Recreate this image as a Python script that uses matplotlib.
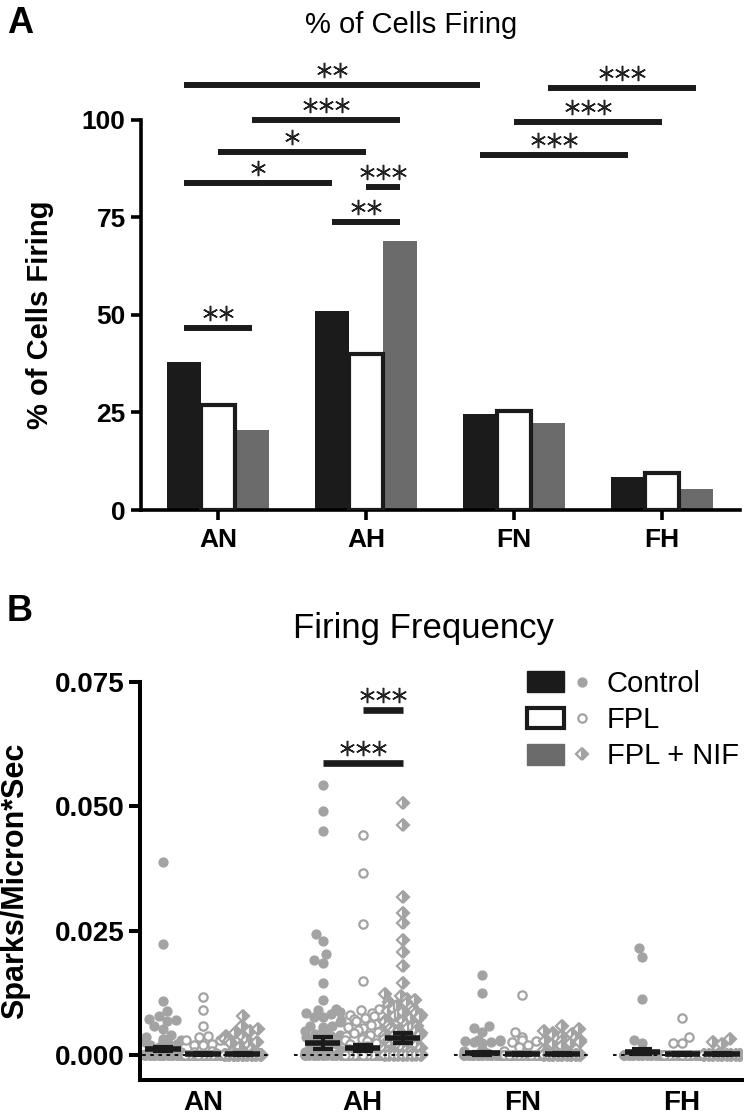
import numpy as np
import matplotlib
matplotlib.use("Agg")
import matplotlib.pyplot as plt
from matplotlib.patches import Patch
from matplotlib.lines import Line2D
from matplotlib.legend_handler import HandlerTuple
from matplotlib.transforms import ScaledTranslation

plt.rcParams['font.family'] = ['Liberation Sans', 'DejaVu Sans']

# ---- data ----
groups = ['AN', 'AH', 'FN', 'FH']
treatments = ['Control', 'FPL', 'FPL + NIF']

# panel A: % of cells firing
pct_control = [38.0, 51.0, 24.5, 8.4]
pct_fpl = [27.0, 40.0, 25.3, 9.4]
pct_nif = [20.4, 69.0, 22.2, 5.4]

# significance bars, panel A: (group, treatment) -> (group, treatment), height, stars
sig_a_from = [(0, 0), (2, 2), (0, 2), (2, 1), (0, 1), (2, 0), (0, 0), (1, 1), (1, 0), (0, 0)]
sig_a_to = [(2, 0), (3, 2), (1, 2), (3, 1), (1, 1), (3, 0), (1, 0), (1, 2), (1, 2), (0, 2)]
sig_a_y = [108.9, 108.1, 99.9, 99.4, 91.7, 90.9, 83.8, 82.7, 73.8, 46.7]
sig_a_stars = [2, 3, 3, 3, 1, 3, 1, 3, 2, 2]

# panel B: firing frequency (sparks / micron*sec), non-zero values per column
an_control = [0.0389, 0.0223, 0.0109, 0.0089, 0.0078, 0.0072, 0.0070, 0.0069, 0.0058, 0.0053,
              0.0040, 0.0036, 0.0033, 0.0030, 0.0028, 0.0026, 0.0024, 0.0022, 0.0020, 0.0018,
              0.0016, 0.0015, 0.0012, 0.0011, 0.0009, 0.0008, 0.0006, 0.0005, 0.0003, 0.0002]
an_fpl = [0.0116, 0.0091, 0.0059, 0.0038, 0.0037, 0.0031, 0.0030, 0.0022, 0.0021, 0.0021,
          0.0009, 0.0006, 0.0004]
an_nif = [0.0079, 0.0059, 0.0052, 0.0048, 0.0044, 0.0041, 0.0038, 0.0036, 0.0033, 0.0031,
          0.0028, 0.0027, 0.0024, 0.0021, 0.0017, 0.0013, 0.0009, 0.0006]
ah_control = [0.0543, 0.0490, 0.0451, 0.0243, 0.0230, 0.0203, 0.0191, 0.0186, 0.0144, 0.0111,
              0.0092, 0.0091, 0.0087, 0.0085, 0.0082, 0.0077, 0.0076, 0.0070, 0.0066, 0.0058,
              0.0058, 0.0057, 0.0050, 0.0049, 0.0045, 0.0043, 0.0040, 0.0038, 0.0036, 0.0033,
              0.0031, 0.0029, 0.0027, 0.0025, 0.0022, 0.0020, 0.0018, 0.0016, 0.0013, 0.0011,
              0.0009, 0.0007, 0.0005, 0.0003]
ah_fpl = [0.0442, 0.0367, 0.0264, 0.0149, 0.0093, 0.0090, 0.0084, 0.0080, 0.0079, 0.0074,
          0.0072, 0.0068, 0.0065, 0.0063, 0.0060, 0.0057, 0.0055, 0.0051, 0.0049, 0.0046,
          0.0044, 0.0041, 0.0038, 0.0036, 0.0033, 0.0031, 0.0028, 0.0025, 0.0022, 0.0019,
          0.0016, 0.0013, 0.0010, 0.0008, 0.0005, 0.0003]
ah_nif = [0.0506, 0.0463, 0.0317, 0.0285, 0.0266, 0.0231, 0.0207, 0.0180, 0.0145, 0.0122,
          0.0118, 0.0113, 0.0110, 0.0107, 0.0104, 0.0101, 0.0099, 0.0096, 0.0093, 0.0091,
          0.0089, 0.0087, 0.0084, 0.0083, 0.0080, 0.0078, 0.0076, 0.0074, 0.0071, 0.0069,
          0.0068, 0.0066, 0.0063, 0.0061, 0.0059, 0.0057, 0.0055, 0.0054, 0.0052, 0.0050,
          0.0048, 0.0047, 0.0045, 0.0043, 0.0041, 0.0040, 0.0038, 0.0036, 0.0035, 0.0033,
          0.0031, 0.0030, 0.0028, 0.0026, 0.0025, 0.0023, 0.0021, 0.0020, 0.0018, 0.0017,
          0.0015, 0.0014, 0.0012, 0.0011, 0.0009, 0.0008, 0.0006, 0.0005, 0.0004, 0.0002]
fn_control = [0.0161, 0.0124, 0.0059, 0.0055, 0.0047, 0.0031, 0.0030, 0.0029, 0.0028, 0.0027,
              0.0026, 0.0024, 0.0012, 0.0008, 0.0005]
fn_fpl = [0.0121, 0.0047, 0.0037, 0.0031, 0.0029, 0.0027, 0.0021, 0.0017, 0.0009, 0.0005]
fn_nif = [0.0058, 0.0052, 0.0048, 0.0045, 0.0042, 0.0040, 0.0038, 0.0035, 0.0033, 0.0031,
          0.0029, 0.0028, 0.0026, 0.0024, 0.0022, 0.0019, 0.0010, 0.0006]
fh_control = [0.0215, 0.0198, 0.0113, 0.0030, 0.0025]
fh_fpl = [0.0075, 0.0036, 0.0025, 0.0024]
fh_nif = [0.0032, 0.0027, 0.0022]

# number of cells at zero in each column (control, fpl, nif) per group
zeros_control = [40, 30, 40, 35]
zeros_fpl = [45, 35, 40, 35]
zeros_nif = [45, 25, 40, 35]

# mean and SEM drawn over each column
mean_control = [0.0012, 0.0024, 0.0004, 0.0007]
mean_fpl = [0.0002, 0.0014, 0.0003, 0.0002]
mean_nif = [0.0002, 0.0034, 0.0003, 0.0002]
sem_control = [0.0004, 0.0012, 0.0003, 0.0005]
sem_fpl = [0.0002, 0.0006, 0.0002, 0.0002]
sem_nif = [0.0002, 0.0010, 0.0002, 0.0002]

# significance bars, panel B
sig_b_from = [(1, 0), (1, 1)]
sig_b_to = [(1, 2), (1, 2)]
sig_b_y = [0.0587, 0.0694]
sig_b_stars = [3, 3]

BLACK = '#1b1b1b'
DARK = '#6b6b6b'
PT = '#a3a3a3'

fig = plt.figure(figsize=(7.44, 11.15), dpi=100)


def draw_stars(ax, x, y, n, dy_px=15):
    # thin six-armed asterisks, spaced in pixels above a bar
    for k in range(n):
        off = (k - (n - 1) / 2) * 16 / 100
        tr = ax.transData + ScaledTranslation(off, dy_px / 100, fig.dpi_scale_trans)
        ax.plot([x], [y], marker=(6, 2, 0), ms=11, mew=1.1, color='#222222',
                transform=tr, clip_on=False, zorder=6)


def swarm(vals, ypx, xpx, d=9.0, maxw=18.0):
    # simple beeswarm in pixel space: each point takes the free slot nearest
    # the column centre; once the column is full, points overlap on a grid
    vals = np.asarray(vals, dtype=float)
    offs = np.zeros(len(vals))
    px, py = [], []
    grid = np.linspace(-maxw, maxw, 9)
    n_over = 0
    for i in np.argsort(vals, kind='stable'):
        y = vals[i] * ypx
        iv = []
        for xj, yj in zip(px, py):
            dy = abs(y - yj)
            if dy < d:
                w = np.sqrt(d * d - dy * dy)
                iv.append((xj - w, xj + w))
        cands = [0.0] + [a for a, b in iv] + [b for a, b in iv]
        ok = [c for c in cands if all(not (a + 1e-6 < c < b - 1e-6) for a, b in iv)]
        best = min(ok, key=abs)
        if abs(best) > maxw:
            best = grid[(n_over * 4) % 9]
            n_over += 1
        else:
            px.append(best)
            py.append(y)
        offs[i] = best
    return offs / xpx


# ================= panel A =================
axA = fig.add_axes([141 / 744, 1 - 510 / 1115, 599 / 744, 450 / 1115])
x = np.arange(len(groups))
bw = 0.23
tr_off = [-bw, 0, bw]
axA.bar(x - bw, pct_control, bw, color=BLACK, zorder=2)
axA.bar(x, pct_fpl, bw, color='white', edgecolor=BLACK, linewidth=3, zorder=3)
axA.bar(x + bw, pct_nif, bw, color=DARK, zorder=2)

for (g1, t1), (g2, t2), y, n in zip(sig_a_from, sig_a_to, sig_a_y, sig_a_stars):
    x1 = g1 + tr_off[t1]
    x2 = g2 + tr_off[t2]
    axA.plot([x1, x2], [y, y], color=BLACK, lw=4.3, solid_capstyle='butt', clip_on=False)
    draw_stars(axA, (x1 + x2) / 2, y, n)

axA.set_xlim(-0.52, 3.527)
axA.set_ylim(0, 115.3)
axA.spines['top'].set_visible(False)
axA.spines['right'].set_visible(False)
axA.spines['left'].set_bounds(0, 100)
for s in ['left', 'bottom']:
    axA.spines[s].set_linewidth(2.6)
axA.set_yticks([0, 25, 50, 75, 100])
axA.set_xticks(x)
axA.set_xticklabels(groups)
axA.tick_params(axis='both', length=7, width=2.6, labelsize=19, pad=4)
axA.tick_params(axis='x', pad=6)
for lab in axA.get_xticklabels() + axA.get_yticklabels():
    lab.set_fontweight('bold')

fig.text(40 / 744, 1 - 315 / 1115, '% of Cells Firing', rotation=90, ha='center',
         va='center', fontsize=21, fontweight='bold')
fig.text(411 / 744, 1 - 33 / 1115, '% of Cells Firing', ha='center', va='baseline',
         fontsize=21)
fig.text(7 / 744, 1 - 33 / 1115, 'A', ha='left', va='baseline', fontsize=26,
         fontweight='bold')

# ================= panel B =================
axB = fig.add_axes([140 / 744, 1 - 1080 / 1115, 602 / 744, 398 / 1115])
col_off = [-0.25, 0.0, 0.25]
cols = [
    [an_control, ah_control, fn_control, fh_control],
    [an_fpl, ah_fpl, fn_fpl, fh_fpl],
    [an_nif, ah_nif, fn_nif, fh_nif],
]
zero_counts = [zeros_control, zeros_fpl, zeros_nif]
means = [mean_control, mean_fpl, mean_nif]
sems = [sem_control, sem_fpl, sem_nif]
ypx = 398 / 0.08
xpx = 602 / (3.375 + 0.394)

for t in range(3):
    for g in range(len(groups)):
        vals = np.array(cols[t][g] + [0.0] * zero_counts[t][g])
        xs = g + col_off[t] + swarm(vals, ypx, xpx)
        if t == 0:
            axB.plot(xs, vals, 'o', ms=6.4, color=PT, mec=PT, zorder=2)
        elif t == 1:
            axB.plot(xs, vals, 'o', ms=6.0, mfc='white', mec=PT, mew=1.6, zorder=2)
        else:
            axB.plot(xs, vals, 'D', ms=6.0, fillstyle='right', mfc=PT, mfcalt='white',
                     mec=PT, mew=1.6, zorder=2)

for g in range(len(groups)):
    axB.hlines(0, g - 0.43, g + 0.43, colors='black', linestyles=(0, (2, 2.5)), lw=1.3,
               zorder=3)
    for t in range(3):
        xc = g + col_off[t]
        axB.hlines(means[t][g], xc - 0.11, xc + 0.11, colors=BLACK, lw=4, zorder=4)
        axB.errorbar([xc], [means[t][g]], yerr=[sems[t][g]], fmt='none', ecolor=BLACK,
                     elinewidth=3, capsize=7, capthick=3, zorder=4)

for (g1, t1), (g2, t2), y, n in zip(sig_b_from, sig_b_to, sig_b_y, sig_b_stars):
    x1 = g1 + col_off[t1]
    x2 = g2 + col_off[t2]
    axB.plot([x1, x2], [y, y], color=BLACK, lw=4.8, solid_capstyle='butt', clip_on=False)
    draw_stars(axB, (x1 + x2) / 2, y, n)

axB.set_xlim(-0.394, 3.375)
axB.set_ylim(-0.005, 0.075)
axB.spines['top'].set_visible(False)
axB.spines['right'].set_visible(False)
axB.spines['left'].set_linewidth(2.9)
axB.spines['bottom'].set_linewidth(2.9)
axB.set_yticks([0.0, 0.025, 0.05, 0.075])
axB.set_yticklabels(['0.000', '0.025', '0.050', '0.075'])
axB.set_xticks(np.arange(len(groups)))
axB.set_xticklabels(groups)
axB.tick_params(axis='y', length=8, width=2.9, labelsize=20, pad=3)
axB.tick_params(axis='x', length=0, labelsize=20, pad=7)
for lab in axB.get_xticklabels() + axB.get_yticklabels():
    lab.set_fontweight('bold')

fig.text(15 / 744, 1 - 881 / 1115, 'Sparks/Micron*Sec', rotation=90, ha='center',
         va='center', fontsize=22, fontweight='bold')
fig.text(423 / 744, 1 - 638 / 1115, 'Firing Frequency', ha='center', va='baseline',
         fontsize=25)
fig.text(7 / 744, 1 - 621 / 1115, 'B', ha='left', va='baseline', fontsize=26,
         fontweight='bold')

# legend: bar swatch + scatter marker per treatment
handles = [
    (Patch(facecolor=BLACK, edgecolor=BLACK),
     Line2D([], [], ls='none', marker='o', ms=6.4, color=PT)),
    (Patch(facecolor='white', edgecolor=BLACK, linewidth=3),
     Line2D([], [], ls='none', marker='o', ms=6.0, mfc='white', mec=PT, mew=1.6)),
    (Patch(facecolor=DARK, edgecolor=DARK),
     Line2D([], [], ls='none', marker='D', ms=6.0, fillstyle='right', mfc=PT,
            mfcalt='white', mec=PT, mew=1.6)),
]
fig.legend(handles, treatments, handler_map={tuple: HandlerTuple(ndivide=None, pad=0)},
           loc='upper left', bbox_to_anchor=(527 / 744, 1 - 670 / 1115), frameon=False,
           fontsize=21, handlelength=2.53, handleheight=0.72, handletextpad=0.2,
           labelspacing=0.28, borderpad=0, borderaxespad=0)

fig.savefig('out.png', dpi=100)
